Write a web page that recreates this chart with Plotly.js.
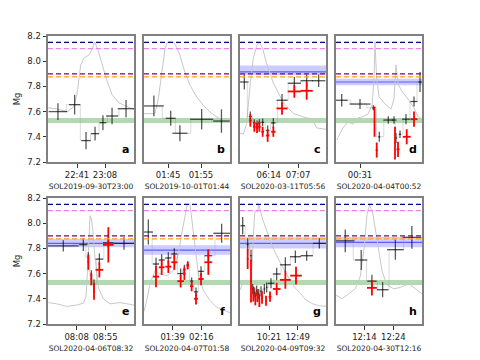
<!DOCTYPE html>
<html>
<head>
<meta charset="utf-8">
<script src="https://cdn.plot.ly/plotly-3.0.1.min.js"></script>
<style>
  html, body { margin: 0; padding: 0; background: #fff; }
  #chart { width: 480px; height: 360px; }
</style>
</head>
<body>
<div id="chart"></div>
<script>
// panel labels and event names
const letters = ["a", "b", "c", "d", "e", "f", "g", "h"];
const events = ["SOL2019-09-30T23:00", "SOL2019-10-01T01:44", "SOL2020-03-11T05:56", "SOL2020-04-04T00:52",
                "SOL2020-04-06T08:32", "SOL2020-04-07T01:58", "SOL2020-04-09T09:32", "SOL2020-04-30T12:16"];
const tickLabels = [["22:41", "23:08"], ["01:45", "01:55"], ["06:14", "07:07"], ["00:31"],
                    ["08:08", "08:55"], ["01:39", "02:16"], ["10:21", "12:49"], ["12:14", "12:24"]];
// time window of each panel, minutes of day
const xRanges = [[1333, 1416], [97.7, 123.8], [322, 477.6], [7, 93],
                 [441, 582], [62, 173], [471.5, 915], [724.2, 753.9]];

// reference levels (same in every panel)
const refLevels = [8.15, 8.10, 7.90, 7.875];
const greenBand = [7.51, 7.55];
// blue band per panel (none in a, b)
const blueLo  = [null, null, 7.89, 7.81, 7.81, 7.75, 7.80, 7.81];
const blueMid = [null, null, 7.915, 7.835, 7.84, 7.787, 7.84, 7.848];
const blueHi  = [null, null, 7.965, 7.86, 7.875, 7.825, 7.888, 7.89];

// light curves (grey)
const curveA_t = [1333, 1342, 1351.7, 1358.1, 1361.3, 1364.5, 1367.7, 1372.6, 1375.8, 1378, 1381.3, 1385.4, 1390.3, 1395.1, 1401.5, 1408, 1416];
const curveA_v = [7.63, 7.62, 7.60, 7.64, 7.755, 7.967, 8.025, 8.05, 8.10, 8.152, 8.086, 7.967, 7.835, 7.729, 7.67, 7.644, 7.618];
const curveB_t = [97.7, 101.0, 102.05, 103.1, 104.1, 104.8, 106.6, 107.6, 108.6, 110.1, 111.7, 113.7, 115.7, 117.7, 119.8, 121.8, 123.8];
const curveB_v = [7.584, 7.584, 7.703, 7.914, 8.10, 8.152, 8.152, 8.113, 8.047, 7.914, 7.808, 7.716, 7.65, 7.597, 7.557, 7.531, 7.539];
const curveC_t = [322, 328, 334, 340, 346, 352, 357, 363, 370, 382, 400.4, 418.5, 442.6, 451.7, 460.7, 477.6];
const curveC_v = [7.43, 7.42, 7.50, 7.80, 8.02, 8.12, 8.155, 8.10, 7.985, 7.83, 7.67, 7.585, 7.55, 7.545, 7.47, 7.46];
const curveD_t = [7.7, 14, 19, 24, 29, 34, 39, 43, 45, 46, 47.5, 50, 56, 62, 65, 67, 69, 73, 79, 85, 89, 93];
const curveD_v = [7.375, 7.47, 7.52, 7.50, 7.55, 7.56, 7.58, 7.65, 7.85, 8.155, 7.88, 7.72, 7.66, 7.62, 7.70, 7.97, 7.82, 7.76, 7.70, 7.63, 7.56, 7.54];
const curveE_t = [441.5, 455.2, 471.6, 488, 499, 503.3, 505.5, 507.7, 509.9, 512, 514.3, 518, 523.5, 531.7, 542.7, 559, 570, 582];
const curveE_v = [7.37, 7.36, 7.34, 7.35, 7.365, 7.42, 7.6, 7.85, 8.06, 8.04, 7.95, 7.73, 7.49, 7.40, 7.36, 7.37, 7.36, 7.35];
const curveF_t = [62, 65.4, 69.7, 76.2, 82.6, 91.3, 99.9, 106.3, 110.6, 114.9, 117.9, 121.4, 124.8, 127.8, 132.1, 138.6, 147.2, 155.8, 164.4, 173];
const curveF_v = [7.30, 7.385, 7.518, 7.624, 7.597, 7.584, 7.624, 7.756, 7.914, 8.073, 8.152, 8.152, 7.99, 7.804, 7.597, 7.465, 7.386, 7.333, 7.312, 7.29];
const curveG_t = [471.5, 485.3, 502.4, 519.6, 530, 540.3, 547.1, 554, 561, 567.8, 588.4, 614.2, 640, 674.3, 708.7, 743, 777.5, 811.9, 846.2, 880.6, 915];
const curveG_v = [7.47, 7.52, 7.55, 7.53, 7.58, 7.90, 8.08, 8.10, 8.09, 8.15, 8.03, 7.92, 7.81, 7.70, 7.60, 7.51, 7.45, 7.39, 7.36, 7.345, 7.34];
const curveH_t = [724.2, 726.3, 728.6, 730.9, 732.6, 734, 734.9, 735.8, 736.9, 738.4, 740.1, 741.8, 744.1, 746.4, 749.3, 751.6, 753.9];
const curveH_v = [7.43, 7.40, 7.44, 7.48, 7.58, 7.82, 8.07, 8.145, 8.08, 7.86, 7.62, 7.51, 7.48, 7.49, 7.52, 7.48, 7.44];

// measurements: [time, time half-width, value, value error]
const blackA = [[1342.6, 9, 7.60, 0.066], [1358.7, 5.5, 7.655, 0.078], [1369.7, 4.5, 7.37, 0.069], [1378.4, 3.9, 7.425, 0.055],
                [1386, 3.2, 7.512, 0.06], [1394.8, 5.8, 7.565, 0.065], [1408.3, 8, 7.623, 0.07]];
const redA = [];
const blackB = [[100.7, 3, 7.645, 0.082], [105.8, 1.5, 7.547, 0.06], [108.6, 2.3, 7.428, 0.063], [115.2, 3.5, 7.539, 0.082],
                [121.2, 2.5, 7.525, 0.093]];
const redB = [];
const blackC = [[329.8, 7.8, 7.835, 0.06], [340.7, 2.4, 7.56, 0.04], [347.9, 2.4, 7.51, 0.03], [352.8, 2.4, 7.50, 0.03],
                [357, 2.4, 7.51, 0.03], [363, 2.4, 7.515, 0.03], [372, 3, 7.45, 0.04], [382.3, 4, 7.51, 0.04],
                [398, 10, 7.69, 0.05], [420.3, 12, 7.825, 0.05], [442.6, 11, 7.845, 0.05], [464.3, 12, 7.845, 0.05]];
const redC = [[340.7, 2.4, 7.53, 0.05], [347.9, 2.4, 7.48, 0.04], [352.8, 2.4, 7.47, 0.04], [357, 2.4, 7.48, 0.04],
              [363, 2.4, 7.44, 0.04], [372, 3, 7.41, 0.05], [382.3, 4, 7.44, 0.04], [398, 10, 7.625, 0.05],
              [420.3, 12, 7.76, 0.05], [442.6, 11, 7.765, 0.07]];
const blackD = [[12.7, 6, 7.69, 0.05], [31, 10.5, 7.66, 0.04], [44.3, 1, 7.63, 0.02], [50.3, 1, 7.40, 0.04],
                [59.3, 5, 7.533, 0.03], [65, 2.5, 7.533, 0.03], [67, 1, 7.39, 0.04], [71, 1, 7.42, 0.03],
                [77, 4, 7.54, 0.04], [85, 3.5, 7.68, 0.04], [91, 1.5, 7.835, 0.08]];
const redD = [[45.5, 0.5, 7.52, 0.12], [47.7, 1, 7.295, 0.06], [66, 0.5, 7.35, 0.13], [69, 1.5, 7.30, 0.06],
              [77.7, 4, 7.40, 0.06], [85, 3.5, 7.54, 0.06]];
const blackE = [[466.1, 25, 7.82, 0.045], [498.9, 6.8, 7.83, 0.05], [507.1, 1, 7.73, 0.04], [512, 1, 7.587, 0.04],
                [516.4, 1.5, 7.515, 0.04], [525.2, 6.3, 7.715, 0.045], [539.9, 8.7, 7.845, 0.04], [565.6, 16.4, 7.84, 0.05]];
const redE = [[507.1, 1, 7.69, 0.06], [512, 1, 7.556, 0.05], [516.4, 1.5, 7.458, 0.065], [525.2, 6.3, 7.63, 0.06],
              [539.9, 8.7, 7.828, 0.14]];
const blackF = [[67.6, 6, 7.93, 0.1], [77.5, 3.9, 7.676, 0.05], [84.8, 3.7, 7.708, 0.045], [93.4, 3.9, 7.724, 0.045],
                [101.1, 3.9, 7.756, 0.045], [109.3, 4.3, 7.60, 0.04], [114.1, 1.5, 7.63, 0.04], [118.4, 1.5, 7.67, 0.03],
                [123.5, 2, 7.54, 0.03], [129.1, 2.5, 7.455, 0.035], [135.6, 3.5, 7.618, 0.04], [145, 5, 7.742, 0.05],
                [162.2, 10.8, 7.92, 0.075]];
const redF = [[77.5, 3.9, 7.576, 0.085], [84.8, 3.7, 7.65, 0.06], [93.4, 3.9, 7.655, 0.05], [101.1, 3.9, 7.69, 0.06],
              [109.3, 4.3, 7.54, 0.05], [114.1, 1.5, 7.60, 0.05], [118.4, 1.5, 7.663, 0.03], [123.5, 2, 7.50, 0.04],
              [129.1, 2.5, 7.40, 0.045], [135.6, 3.5, 7.557, 0.05], [145, 5, 7.69, 0.1]];
const blackG = [[485.3, 12, 7.98, 0.07], [511, 4, 7.83, 0.05], [528.2, 4, 7.742, 0.05], [536.8, 3, 7.478, 0.04],
                [547.1, 3, 7.45, 0.04], [557.5, 3, 7.465, 0.04], [567.8, 3, 7.438, 0.04], [579.8, 3, 7.46, 0.04],
                [597, 3, 7.478, 0.04], [609, 3, 7.49, 0.04], [631.4, 17, 7.523, 0.04], [660.6, 20, 7.597, 0.05],
                [705.3, 28, 7.67, 0.06], [756.9, 28, 7.734, 0.05], [815.3, 32, 7.742, 0.04], [880.6, 33, 7.84, 0.04]];
const redG = [[511, 4, 7.716, 0.08], [528.2, 4, 7.54, 0.17], [540.3, 3, 7.438, 0.06], [550.6, 3, 7.398, 0.05],
              [560.9, 3, 7.425, 0.05], [571.2, 3, 7.385, 0.05], [585, 3, 7.41, 0.05], [605.6, 3, 7.385, 0.04],
              [626.2, 7, 7.417, 0.04], [660.6, 20, 7.478, 0.05], [705.3, 28, 7.55, 0.07], [760.3, 30, 7.584, 0.07]];
const blackH = [[727.4, 3.2, 7.86, 0.09], [732.9, 2.1, 7.708, 0.08], [736.6, 1.6, 7.54, 0.05], [740.3, 2, 7.472, 0.06],
                [744.7, 2.9, 7.79, 0.08], [750.4, 3.2, 7.888, 0.09]];
const redH = [[736.6, 1.7, 7.487, 0.06]];

const curves = [[curveA_t, curveA_v], [curveB_t, curveB_v], [curveC_t, curveC_v], [curveD_t, curveD_v],
                [curveE_t, curveE_v], [curveF_t, curveF_v], [curveG_t, curveG_v], [curveH_t, curveH_v]];
const blacks = [blackA, blackB, blackC, blackD, blackE, blackF, blackG, blackH];
const reds = [redA, redB, redC, redD, redE, redF, redG, redH];

const refColors = ["#00008b", "violet", "purple", "orange"];
const font = "DejaVu Sans, sans-serif";

function toMinutes(s) {
  let p = s.split(":");
  return parseInt(p[0]) * 60 + parseInt(p[1]);
}

function crossTrace(rows, color, thick, xa, ya) {
  return {
    x: rows.map(r => r[0]),
    y: rows.map(r => r[2]),
    xaxis: xa, yaxis: ya,
    type: "scatter", mode: "markers",
    marker: { size: 1, opacity: 0 },
    error_x: { type: "data", array: rows.map(r => r[1]), width: 0, color: color, thickness: thick },
    error_y: { type: "data", array: rows.map(r => r[3]), width: 0, color: color, thickness: thick },
    hoverinfo: "skip", showlegend: false,
  };
}

let data = [];
let shapes = [];
let annotations = [];
let layout = {
  width: 480, height: 360,
  margin: { l: 0, r: 0, t: 0, b: 0 },
  paper_bgcolor: "white", plot_bgcolor: "white",
  showlegend: false,
  font: { family: font, size: 8.3, color: "#222" },
};

for (let i = 0; i < 8; i++) {
  let n = i === 0 ? "" : String(i + 1);
  let xa = "x" + n, ya = "y" + n;
  let col = i % 4, row = Math.floor(i / 4);
  let x0 = 0.1 + col * 0.2;
  let y1 = row === 0 ? 0.9 : 0.45;

  layout["xaxis" + n] = {
    domain: [x0, x0 + 0.1792],
    range: xRanges[i],
    anchor: ya,
    tickvals: tickLabels[i].map(toMinutes),
    ticktext: tickLabels[i],
    ticks: "outside", ticklen: 3.5, tickwidth: 1, tickcolor: "#333",
    showline: true, mirror: true, linecolor: "#808080", linewidth: 2,
    showgrid: false, zeroline: false,
    tickfont: { size: 8.5, family: font, color: "#222" },
    title: { text: events[i], font: { size: 7.5, family: font, color: "#222" }, standoff: 5 },
    fixedrange: true,
  };
  layout["yaxis" + n] = {
    domain: [y1 - 0.35, y1],
    range: [7.2, 8.2],
    anchor: xa,
    tickvals: [7.2, 7.4, 7.6, 7.8, 8.0, 8.2],
    ticktext: ["7.2", "7.4", "7.6", "7.8", "8.0", "8.2"],
    showticklabels: col === 0,
    ticks: col === 0 ? "outside" : "",
    ticklen: 3.5, tickwidth: 1, tickcolor: "#333",
    showline: true, mirror: true, linecolor: "#808080", linewidth: 2,
    showgrid: false, zeroline: false,
    tickfont: { size: 8.5, family: font, color: "#222" },
    title: { text: col === 0 ? "Mg" : "", font: { size: 8.5, family: font, color: "#222" }, standoff: 5 },
    fixedrange: true,
  };

  // green band
  shapes.push({ type: "rect", xref: xa + " domain", yref: ya, x0: 0, x1: 1, y0: greenBand[0], y1: greenBand[1],
                fillcolor: "rgba(0,128,0,0.3)", line: { width: 0 }, layer: "below" });
  // blue band
  if (blueMid[i] !== null) {
    shapes.push({ type: "rect", xref: xa + " domain", yref: ya, x0: 0, x1: 1, y0: blueLo[i], y1: blueHi[i],
                  fillcolor: "rgba(0,0,255,0.2)", line: { width: 0 }, layer: "below" });
    shapes.push({ type: "line", xref: xa + " domain", yref: ya, x0: 0, x1: 1, y0: blueMid[i], y1: blueMid[i],
                  line: { color: "rgba(0,0,255,0.55)", width: 1.2 }, layer: "below" });
  }
  // dashed reference levels
  refLevels.forEach((lv, k) => {
    shapes.push({ type: "line", xref: xa + " domain", yref: ya, x0: 0, x1: 1, y0: lv, y1: lv,
                  line: { color: refColors[k], width: 1.2, dash: "5px,3px" } });
  });

  // light curve
  data.push({ x: curves[i][0], y: curves[i][1], xaxis: xa, yaxis: ya, type: "scatter", mode: "lines",
              line: { color: "#c8c8c8", width: 1 }, hoverinfo: "skip" });
  // step line through measurements
  data.push({ x: blacks[i].map(r => r[0]), y: blacks[i].map(r => r[2]), xaxis: xa, yaxis: ya,
              type: "scatter", mode: "lines", line: { color: "rgba(150,150,150,0.35)", width: 1, shape: "hvh" },
              hoverinfo: "skip" });
  data.push(crossTrace(blacks[i], "rgba(0,0,0,0.65)", 1.3, xa, ya));
  if (reds[i].length) data.push(crossTrace(reds[i], "red", 1.8, xa, ya));

  annotations.push({ text: "<b>" + letters[i] + "</b>", xref: xa + " domain", yref: ya + " domain",
                     x: 0.97, y: 0.03, xanchor: "right", yanchor: "bottom", showarrow: false,
                     font: { size: 11, family: font, color: "#000" } });
}

layout.shapes = shapes;
layout.annotations = annotations;

Plotly.newPlot("chart", data, layout, { displayModeBar: false, staticPlot: true });
</script>
</body>
</html>
